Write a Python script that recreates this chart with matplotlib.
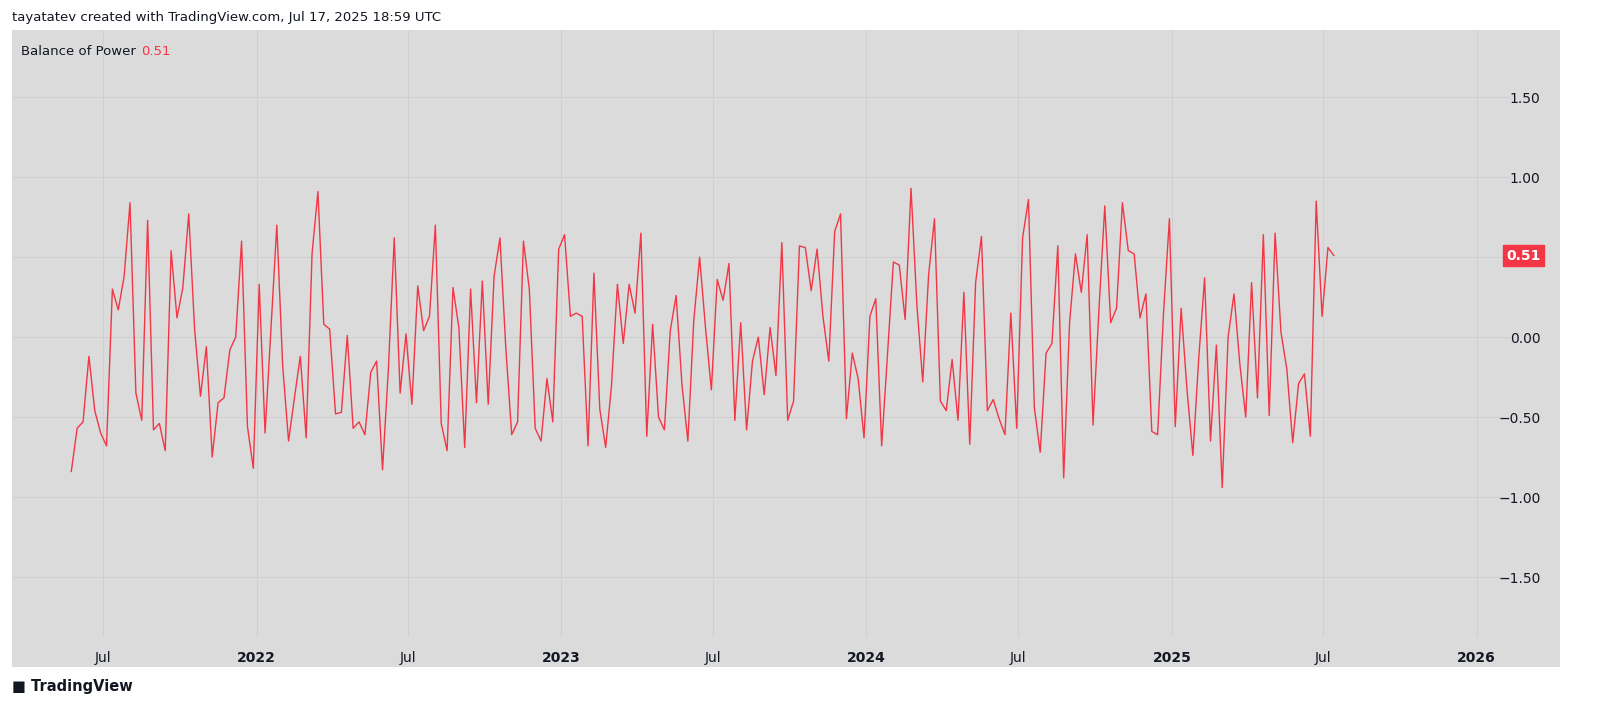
import numpy as np
import pandas as pd
import matplotlib
matplotlib.use("Agg")
import matplotlib.pyplot as plt

values = [-0.84,-0.57,-0.53,-0.12,-0.46,-0.60,-0.68,0.30,0.17,0.38,0.84,-0.35,-0.52,0.73,-0.58,-0.54,-0.71,
0.54,0.12,0.31,0.77,0.05,-0.37,-0.06,-0.75,-0.41,-0.38,-0.08,0.00,0.60,-0.56,-0.82,0.33,-0.60,0.05,0.70,
-0.18,-0.65,-0.38,-0.12,-0.63,0.52,0.91,0.08,0.05,-0.48,-0.47,0.01,-0.57,-0.53,-0.61,-0.22,-0.15,-0.83,
-0.20,0.62,-0.35,0.02,-0.42,0.32,0.04,0.13,0.70,-0.54,-0.71,0.31,0.06,-0.69,0.30,-0.41,0.35,-0.42,0.38,
0.62,-0.07,-0.61,-0.53,0.60,0.30,-0.57,-0.65,-0.26,-0.53,0.55,0.64,0.13,0.15,0.13,-0.68,0.40,-0.45,-0.69,
-0.30,0.33,-0.04,0.33,0.15,0.65,-0.62,0.08,-0.50,-0.58,0.04,0.26,-0.30,-0.65,0.10,0.50,0.06,-0.33,0.36,
0.23,0.46,-0.52,0.09,-0.58,-0.15,0.00,-0.36,0.06,-0.24,0.59,-0.52,-0.40,0.57,0.56,0.29,0.55,0.13,-0.15,
0.66,0.77,-0.51,-0.10,-0.26,-0.63,0.13,0.24,-0.68,-0.10,0.47,0.45,0.11,0.93,0.20,-0.28,0.39,0.74,-0.40,
-0.46,-0.14,-0.52,0.28,-0.67,0.34,0.63,-0.46,-0.39,-0.51,-0.61,0.15,-0.57,0.62,0.86,-0.44,-0.72,-0.10,
-0.04,0.57,-0.88,0.09,0.52,0.28,0.64,-0.55,0.17,0.82,0.09,0.18,0.84,0.54,0.52,0.12,0.27,-0.59,-0.61,0.15,
0.74,-0.56,0.18,-0.33,-0.74,-0.13,0.37,-0.65,-0.05,-0.94,0.00,0.27,-0.17,-0.50,0.34,-0.38,0.64,-0.49,0.65,
0.03,-0.20,-0.66,-0.29,-0.23,-0.62,0.85,0.13,0.56,0.51]
start = pd.Timestamp("2021-05-24")
end = pd.Timestamp("2025-07-14")
dates = pd.to_datetime(np.linspace(start.value, end.value, len(values)))

yticks = [-1.5, -1.0, -0.5, 0.0, 0.5, 1.0, 1.5]
red = "#f23645"
bg = "#dbdbdb"
last = values[-1]

fig = plt.figure(figsize=(16, 7.18), dpi=100)
fig.patch.set_facecolor("white")
ax = fig.add_axes([12/1600, 1-637/718, 1498/1600, 607/718])
ax.set_facecolor(bg)
ax.plot(dates, values, color=red, lw=1.0)
ax.set_ylim(-1.875, 1.92)
ax.set_xlim(pd.Timestamp("2021-03-14"), pd.Timestamp("2026-02-10"))
ax.set_yticks(yticks)
# the 0.50 label is covered by the last-value marker in the reference
ax.set_yticklabels(["" if abs(v - last) < 0.08 else f"{v:.2f}".replace("-", "−") for v in yticks])
ax.yaxis.tick_right()
xt = [pd.Timestamp(s) for s in ["2021-07-01","2022-01-01","2022-07-01","2023-01-01","2023-07-01",
                                 "2024-01-01","2024-07-01","2025-01-01","2025-07-01","2026-01-01"]]
ax.set_xticks(xt)
ax.set_xticklabels(["Jul" if t.month == 7 else str(t.year) for t in xt])
for lab, t in zip(ax.get_xticklabels(), xt):
    if t.month == 1:
        lab.set_fontweight("bold")
ax.tick_params(axis="both", length=0, labelsize=10, colors="#131722", pad=10)
ax.tick_params(axis="y", pad=22)
for lab in ax.get_yticklabels():
    lab.set_horizontalalignment("right")
ax.grid(True, color="#cfcfcf", lw=0.7)
for s in ax.spines.values():
    s.set_visible(False)
fig.add_artist(plt.Rectangle((12/1600, 1-667/718), 1548/1600, 637/718, transform=fig.transFigure,
                             facecolor=bg, zorder=-1))
ax.text(0.006, 0.975, "Balance of Power", transform=ax.transAxes, fontsize=9.5, color="#131722", va="top")
ax.text(0.086, 0.975, f"{last:.2f}", transform=ax.transAxes, fontsize=9.5, color=red, va="top")
ax.annotate(f"{last:.2f}", xy=(1.0, last), xycoords=("axes fraction", "data"),
            xytext=(22, 0), textcoords="offset points", va="center", ha="right", fontsize=10,
            color="white", fontweight="bold",
            bbox=dict(boxstyle="square,pad=0.25", fc=red, ec=red))
fig.text(12/1600, 1-17/718, "tayatatev created with TradingView.com, Jul 17, 2025 18:59 UTC",
         fontsize=9.5, color="#131722", va="center")
fig.text(12/1600, 1-686/718, "\u25A0 TradingView", fontsize=10.5, color="#131722", va="center",
         fontweight="bold")
fig.savefig("out.png", dpi=100, facecolor="white")
